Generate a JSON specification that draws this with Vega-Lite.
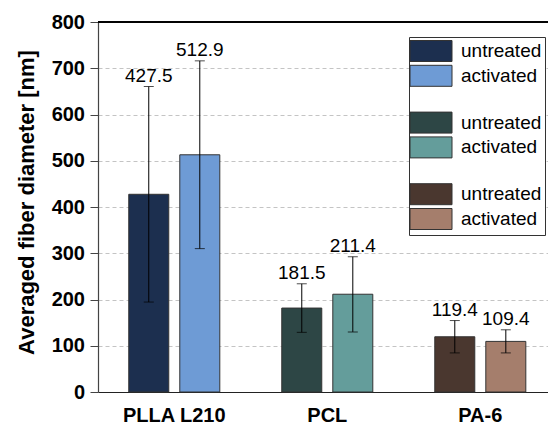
{
  "$schema": "https://vega.github.io/schema/vega-lite/v6.json",
  "width": 450,
  "height": 370,
  "autosize": {"type": "none"},
  "padding": {"left": 98, "top": 22, "right": 0, "bottom": 34},
  "background": "white",
  "config": {"font": "Liberation Sans", "view": {"stroke": null}},
  "data": {
    "values": [
      {"material": "PLLA L210", "treatment": "untreated", "series": "PLLA L210 untreated", "mean": 427.5, "lower": 194.5, "upper": 660.5},
      {"material": "PLLA L210", "treatment": "activated", "series": "PLLA L210 activated", "mean": 512.9, "lower": 310, "upper": 716},
      {"material": "PCL", "treatment": "untreated", "series": "PCL untreated", "mean": 181.5, "lower": 129, "upper": 234},
      {"material": "PCL", "treatment": "activated", "series": "PCL activated", "mean": 211.4, "lower": 130, "upper": 292.5},
      {"material": "PA-6", "treatment": "untreated", "series": "PA-6 untreated", "mean": 119.4, "lower": 84.5, "upper": 154.5},
      {"material": "PA-6", "treatment": "activated", "series": "PA-6 activated", "mean": 109.4, "lower": 84.5, "upper": 134.5}
    ]
  },
  "layer": [
    {
      "mark": {"type": "bar", "stroke": "#333333", "strokeWidth": 1},
      "encoding": {
        "x": {
          "field": "material", "type": "nominal", "sort": ["PLLA L210", "PCL", "PA-6"],
          "scale": {"paddingInner": 0.405, "paddingOuter": 0.173, "align": 0.581},
          "axis": {
            "title": null, "labelAngle": 0, "ticks": false, "tickSize": 0,
            "labelFontSize": 20, "labelFontWeight": "bold", "labelColor": "black",
            "labelPadding": 29, "labelBaseline": "alphabetic",
            "domainColor": "#222222", "domainWidth": 1.2
          }
        },
        "xOffset": {
          "field": "treatment", "type": "nominal", "sort": ["untreated", "activated"],
          "scale": {"paddingInner": 0.216, "paddingOuter": 0}
        },
        "y": {
          "field": "mean", "type": "quantitative",
          "title": "Averaged fiber diameter [nm]",
          "scale": {"domain": [0, 800], "nice": false},
          "axis": {
            "values": [0, 50, 100, 150, 200, 250, 300, 350, 400, 450, 500, 550, 600, 650, 700, 750, 800],
            "labelExpr": "datum.value % 100 === 0 ? datum.label : ''",
            "labelFontSize": 20, "labelFontWeight": "bold", "labelColor": "black",
            "labelPadding": 5.5,
            "tickSize": {"condition": {"test": "datum.value % 100 !== 0", "value": 4}, "value": 8},
            "tickColor": "#444444", "tickWidth": 1,
            "domainColor": "#444444", "domainWidth": 1.2,
            "grid": true, "gridColor": "#c4c4c4", "gridDash": [4, 3],
            "gridOpacity": {"condition": {"test": "datum.value % 100 !== 0", "value": 0}, "value": 1},
            "titleFontSize": 22, "titleFontWeight": "bold", "titleColor": "black",
            "titleX": -65, "titleY": 180, "titleBaseline": "alphabetic"
          }
        },
        "color": {
          "field": "series", "type": "nominal",
          "scale": {
            "domain": ["PLLA L210 untreated", "PLLA L210 activated", "gap1", "PCL untreated", "PCL activated", "gap2", "PA-6 untreated", "PA-6 activated"],
            "range": ["#1c2f4f", "#6e9bd5", "#ffffff", "#2d4645", "#649d9b", "#ffffff", "#4a372f", "#a57e6c"]
          },
          "legend": {
            "title": null, "orient": "none", "legendX": 311, "legendY": 15,
            "symbolType": "M-2,-1H2V1H-2Z", "symbolSize": 441,
            "symbolStrokeColor": "#333333", "symbolStrokeWidth": 1,
            "symbolOffset": 8, "labelOffset": 19,
            "labelFontSize": 19, "labelColor": "black", "labelLimit": 200,
            "rowPadding": -1.2, "padding": 3,
            "strokeColor": "#333333", "fillColor": "white",
            "labelExpr": "test(/untreated/, datum.value) ? 'untreated' : (test(/activated/, datum.value) ? 'activated' : '')",
            "encode": {"symbols": {"update": {"opacity": {"signal": "test(/gap/, datum.value) ? 0 : 1"}}}}
          }
        }
      }
    },
    {
      "mark": {"type": "rule", "color": "black", "strokeWidth": 1},
      "encoding": {
        "x": {"field": "material", "type": "nominal", "sort": ["PLLA L210", "PCL", "PA-6"]},
        "xOffset": {"field": "treatment", "type": "nominal", "sort": ["untreated", "activated"]},
        "y": {"field": "lower", "type": "quantitative", "title": "Averaged fiber diameter [nm]"},
        "y2": {"field": "upper"}
      }
    },
    {
      "mark": {"type": "tick", "color": "black", "size": 10, "thickness": 1, "orient": "horizontal"},
      "encoding": {
        "x": {"field": "material", "type": "nominal", "sort": ["PLLA L210", "PCL", "PA-6"]},
        "xOffset": {"field": "treatment", "type": "nominal", "sort": ["untreated", "activated"]},
        "y": {"field": "lower", "type": "quantitative", "title": "Averaged fiber diameter [nm]"}
      }
    },
    {
      "mark": {"type": "tick", "color": "black", "size": 10, "thickness": 1, "orient": "horizontal"},
      "encoding": {
        "x": {"field": "material", "type": "nominal", "sort": ["PLLA L210", "PCL", "PA-6"]},
        "xOffset": {"field": "treatment", "type": "nominal", "sort": ["untreated", "activated"]},
        "y": {"field": "upper", "type": "quantitative", "title": "Averaged fiber diameter [nm]"}
      }
    },
    {
      "mark": {"type": "text", "dy": -5, "baseline": "alphabetic", "align": "center", "fontSize": 19, "color": "black"},
      "encoding": {
        "x": {"field": "material", "type": "nominal", "sort": ["PLLA L210", "PCL", "PA-6"]},
        "xOffset": {"field": "treatment", "type": "nominal", "sort": ["untreated", "activated"]},
        "y": {"field": "upper", "type": "quantitative", "title": "Averaged fiber diameter [nm]"},
        "text": {"field": "mean", "type": "quantitative", "format": ".1f"}
      }
    },
    {
      "mark": {"type": "rule", "color": "black", "strokeWidth": 1.2},
      "encoding": {
        "y": {"datum": 800, "type": "quantitative", "title": "Averaged fiber diameter [nm]"}
      }
    }
  ]
}
